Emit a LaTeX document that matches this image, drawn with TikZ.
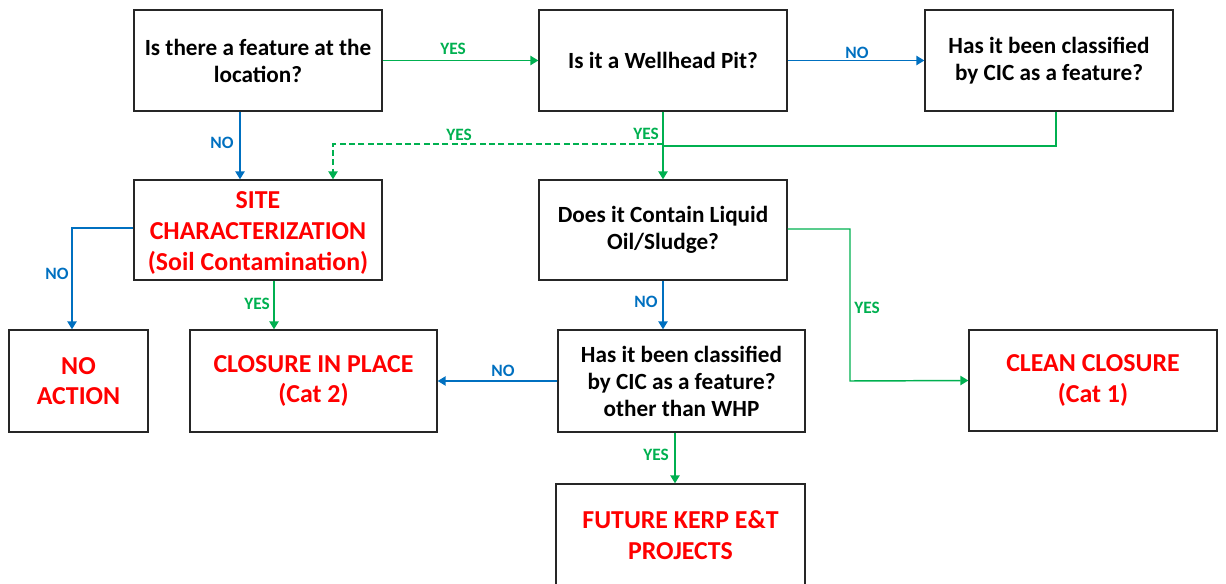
\documentclass[tikz,border=0pt]{standalone}
\usepackage{fontspec}
\setmainfont{Carlito}
\usetikzlibrary{arrows.meta,calc}
\definecolor{yesgreen}{HTML}{00B050}
\definecolor{noblue}{HTML}{0070C0}
\definecolor{outred}{HTML}{FF0000}
\begin{document}
\begin{tikzpicture}[x=0.75pt,y=-0.75pt,
  box/.style={draw=black!85,line width=1pt,fill=white,align=center,inner sep=0pt,
    font=\bfseries\fontsize{17.4}{20.3}\selectfont},
  outcome/.style={box,text=outred,font=\bfseries\fontsize{19.4}{22.9}\selectfont},
  caption/.style={outcome,draw=none,fill=none},
  link/.style={line width=1.1pt,-{Triangle[width=7pt,length=6pt]}},
  yes/.style={link,draw=yesgreen},
  no/.style={link,draw=noblue},
  lbl/.style={font=\bfseries\fontsize{13}{14}\selectfont,inner sep=0pt},
  yeslbl/.style={lbl,text=yesgreen},
  nolbl/.style={lbl,text=noblue}]
\useasboundingbox (0,0) rectangle (1226,584);
\clip (0,0) rectangle (1226,584);

% decision boxes
\node[box,minimum width=248*0.75pt,minimum height=101*0.75pt] (b1) at (258,60.5) {Is there a feature at the\\location?};
\node[box,minimum width=248*0.75pt,minimum height=101*0.75pt] (b2) at (663,60.5) {Is it a Wellhead Pit?};
\node[box,minimum width=248*0.75pt,minimum height=101*0.75pt] (b3) at (1049,60.5) {Has it been classified\\by CIC as a feature?};
\node[outcome,minimum width=248*0.75pt,minimum height=100*0.75pt] (b4) at (258,230) {};
\node[caption,font=\bfseries\fontsize{19.4}{23.6}\selectfont] (b4t) at (258,233) {SITE\\CHARACTERIZATION\\(Soil Contamination)};
\node[box,minimum width=248*0.75pt,minimum height=100*0.75pt] (b5) at (663,230) {Does it Contain Liquid\\Oil/Sludge?};
\node[outcome,minimum width=139*0.75pt,minimum height=102*0.75pt] (b6) at (78.5,381) {NO\\ACTION};
\node[outcome,minimum width=247*0.75pt,minimum height=102*0.75pt] (b7) at (313.5,381) {CLOSURE IN PLACE\\(Cat 2)};
\node[box,minimum width=247*0.75pt,minimum height=102*0.75pt] (b8) at (681.5,381) {Has it been classified\\by CIC as a feature?\\other than WHP};
\node[outcome,minimum width=248*0.75pt,minimum height=101*0.75pt] (b9) at (1093,380.5) {CLEAN CLOSURE\\(Cat 1)};
% the last box runs past the lower edge of the page
\node[outcome,minimum width=249*0.75pt,minimum height=140*0.75pt] (b10) at (680.5,554) {};
\node[caption] (b10t) at (680.5,535) {FUTURE KERP E\&T\\PROJECTS};

% junction below the Wellhead Pit box
\coordinate (j) at (663,146);

% connectors
\draw[yes] (b1.east) -- (b2.west);
\draw[no] (b2.east) -- (b3.west);
\draw[no] ($(b1.south)+(-18,0)$) -- ($(b4.north)+(-18,0)$);
\draw[yes] (b2.south) -- (b5.north);
\draw[yes,-] ($(b3.south)+(7,0)$) |- (j);
\draw[yes,dash pattern=on 4.5pt off 2.5pt] ($(j)+(0,-2)$) -| ($(b4.north)+(75,0)$);
\draw[no] ($(b4.west)+(0,-2)$) -| (b6.north -| 72,0);
\draw[yes] ($(b4.south)+(16,0)$) -- ($(b7.north)+(-39.5,0)$);
\draw[no] (b5.south) -- (b8.north -| b5.south);
\draw[yes] ($(b5.east)+(0,-1)$) -| (850,381) -- (b9.west);
\draw[no] (b8.west) -- (b7.east);
\draw[yes] ($(b8.south)+(-6.5,0)$) -- (b10.north -| 675,0);

% branch labels
\node[yeslbl] (l1) at (453,49) {YES};
\node[nolbl] (l2) at (857,53) {NO};
\node[nolbl] (l3) at (222,143) {NO};
\node[yeslbl] (l4) at (646,134) {YES};
\node[yeslbl] (l5) at (459,135) {YES};
\node[nolbl] (l6) at (57,274) {NO};
\node[yeslbl] (l7) at (257,304) {YES};
\node[nolbl] (l8) at (646,302) {NO};
\node[yeslbl] (l9) at (867,308) {YES};
\node[nolbl] (l10) at (503,371) {NO};
\node[yeslbl] (l11) at (656,455) {YES};
\end{tikzpicture}
\end{document}
